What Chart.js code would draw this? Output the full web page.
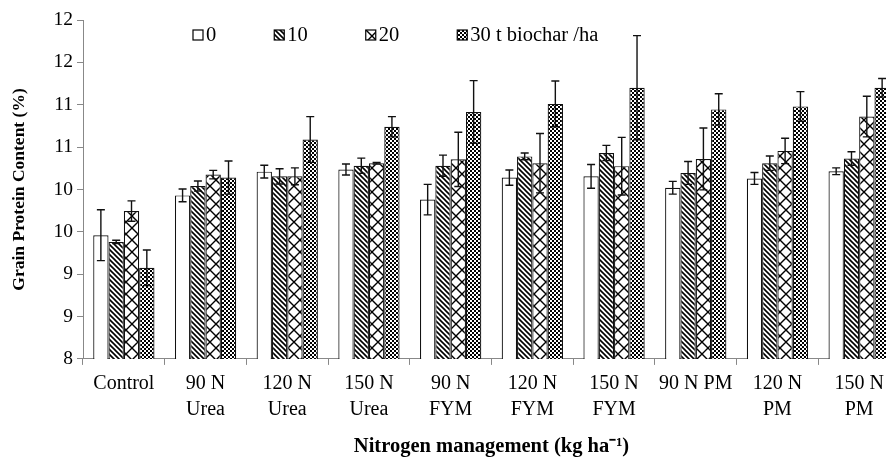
<!DOCTYPE html>
<html>
<head>
<meta charset="utf-8">
<script src="https://cdn.jsdelivr.net/npm/chart.js@4.4.1/dist/chart.umd.min.js"></script>
<style>
  html, body { margin: 0; padding: 0; background: #fff; overflow: hidden; width: 886px; height: 459px; }
  canvas { display: block; }
</style>
</head>
<body>
<canvas id="chart" width="905" height="459"></canvas>
<script>
// categories (x axis)
const categories = [
    ['Control'], ['90 N', 'Urea'], ['120 N', 'Urea'], ['150 N', 'Urea'],
    ['90 N', 'FYM'], ['120 N', 'FYM'], ['150 N', 'FYM'],
    ['90 N PM'], ['120 N', 'PM'], ['150 N', 'PM']
];
const seriesNames = ['0', '10', '20', '30 t biochar /ha'];

// grain protein (%) for each biochar rate
const bc0 = [9.46, 9.93, 10.21, 10.235, 9.88, 10.14, 10.155, 10.02, 10.13, 10.215];
const bc10 = [9.38, 10.04, 10.155, 10.28, 10.28, 10.39, 10.43, 10.195, 10.31, 10.365];
const bc20 = [9.745, 10.175, 10.155, 10.31, 10.355, 10.31, 10.275, 10.36, 10.455, 10.86];
const bc30 = [9.075, 10.14, 10.59, 10.74, 10.915, 11.01, 11.2, 10.945, 10.98, 11.2];

// error bars (+/-)
const bc0Err = [0.30, 0.075, 0.075, 0.065, 0.18, 0.09, 0.14, 0.075, 0.07, 0.04];
const bc10Err = [0.02, 0.06, 0.09, 0.09, 0.125, 0.04, 0.09, 0.135, 0.085, 0.08];
const bc20Err = [0.12, 0.05, 0.10, 0.01, 0.32, 0.35, 0.34, 0.365, 0.15, 0.24];
const bc30Err = [0.21, 0.195, 0.27, 0.12, 0.37, 0.27, 0.615, 0.185, 0.175, 0.11];

// y tick labels as printed (0.5 steps rounded)
const yTickLabels = ['8', '9', '9', '10', '10', '11', '11', '12', '12'];

const serif = 'Liberation Serif';
Chart.defaults.font.family = serif;
Chart.defaults.color = '#000';

// hatch fills
function makePattern(type) {
    let c = document.createElement('canvas');
    let g = c.getContext('2d');
    if (type === 'white') {
        c.width = 4; c.height = 4;
        g.fillStyle = '#fff';
        g.fillRect(0, 0, 4, 4);
    } else if (type === 'diag') {
        c.width = 5; c.height = 5;
        g.fillStyle = '#fff';
        g.fillRect(0, 0, 5, 5);
        g.strokeStyle = '#000';
        g.lineWidth = 1.6;
        g.beginPath();
        g.moveTo(-1, -1); g.lineTo(6, 6);
        g.moveTo(-1, 4); g.lineTo(1, 6);
        g.moveTo(4, -1); g.lineTo(6, 1);
        g.stroke();
    } else if (type === 'lattice') {
        c.width = 12; c.height = 12;
        g.fillStyle = '#fff';
        g.fillRect(0, 0, 12, 12);
        g.strokeStyle = '#000';
        g.lineWidth = 1.4;
        g.beginPath();
        g.moveTo(0, 0); g.lineTo(12, 12);
        g.moveTo(12, 0); g.lineTo(0, 12);
        g.stroke();
    } else {
        c.width = 4; c.height = 4;
        g.fillStyle = '#fff';
        g.fillRect(0, 0, 4, 4);
        g.fillStyle = '#000';
        g.fillRect(0, 0, 2, 2);
        g.fillRect(2, 2, 2, 2);
    }
    return g.createPattern(c, 'repeat');
}

const fills = [makePattern('white'), makePattern('diag'), makePattern('lattice'), makePattern('checker')];
const values = [bc0, bc10, bc20, bc30];
const errors = [bc0Err, bc10Err, bc20Err, bc30Err];

const datasets = seriesNames.map((name, i) => ({
    label: name,
    data: values[i],
    errors: errors[i],
    backgroundColor: fills[i],
    borderColor: '#111',
    borderWidth: 1.2,
    categoryPercentage: 0.75,
    barPercentage: 1.0
}));

// error bars drawn with the y scale
const errorBars = {
    id: 'errorBars',
    afterDatasetsDraw(chart) {
        let ctx = chart.ctx;
        let y = chart.scales.y;
        ctx.save();
        ctx.strokeStyle = '#111';
        ctx.lineWidth = 1.4;
        chart.data.datasets.forEach((ds, di) => {
            let meta = chart.getDatasetMeta(di);
            meta.data.forEach((bar, i) => {
                let v = ds.data[i], e = ds.errors[i];
                let top = y.getPixelForValue(v + e);
                let bot = y.getPixelForValue(v - e);
                ctx.beginPath();
                ctx.moveTo(bar.x, top); ctx.lineTo(bar.x, bot);
                ctx.moveTo(bar.x - 4, top); ctx.lineTo(bar.x + 4, top);
                ctx.moveTo(bar.x - 4, bot); ctx.lineTo(bar.x + 4, bot);
                ctx.stroke();
            });
        });
        ctx.restore();
    }
};

// legend row inside the plot
const legendRow = {
    id: 'legendRow',
    afterDraw(chart) {
        let ctx = chart.ctx;
        let x = chart.chartArea.left + 110;
        let yMid = chart.chartArea.top + 15;
        ctx.save();
        ctx.font = '20.5px "' + serif + '"';
        ctx.textBaseline = 'middle';
        ctx.fillStyle = '#000';
        chart.data.datasets.forEach((ds) => {
            ctx.fillStyle = ds.backgroundColor;
            ctx.fillRect(x, yMid - 5, 10, 10);
            ctx.strokeStyle = '#000';
            ctx.lineWidth = 1.2;
            ctx.strokeRect(x, yMid - 5, 10, 10);
            ctx.fillStyle = '#000';
            ctx.fillText(ds.label, x + 13, yMid + 1);
            x += 13 + ctx.measureText(ds.label).width + 58;
        });
        ctx.restore();
    }
};

let chart = new Chart(document.getElementById('chart').getContext('2d'), {
    type: 'bar',
    data: {
        labels: categories,
        datasets: datasets
    },
    options: {
        responsive: false,
        animation: false,
        devicePixelRatio: 1,
        layout: { padding: { left: 9, right: 5, top: 20, bottom: 0 } },
        plugins: {
            legend: { display: false },
            tooltip: { enabled: false }
        },
        scales: {
            x: {
                grid: { drawOnChartArea: false, drawTicks: true, tickLength: 6, color: '#888', offset: true },
                border: { color: '#888', width: 1 },
                ticks: { font: { size: 20, lineHeight: 1.3 }, color: '#000', padding: 6, maxRotation: 0, autoSkip: false },
                title: {
                    display: true,
                    text: 'Nitrogen management (kg ha⁻¹)',
                    font: { size: 20.5, weight: 'bold' },
                    color: '#000',
                    padding: { top: 5.5, bottom: 0 }
                }
            },
            y: {
                min: 8,
                max: 12,
                grid: { drawOnChartArea: false, tickLength: 6, color: '#888' },
                border: { color: '#888', width: 1 },
                ticks: {
                    stepSize: 0.5,
                    font: { size: 19.5 },
                    color: '#000',
                    padding: 4,
                    callback: (v, i) => yTickLabels[i]
                },
                title: {
                    display: true,
                    text: 'Grain Protein Content (%)',
                    font: { size: 17.5, weight: 'bold' },
                    color: '#000',
                    padding: { top: 0, bottom: 19.5 }
                }
            }
        }
    },
    plugins: [errorBars, legendRow]
});
</script>
</body>
</html>
